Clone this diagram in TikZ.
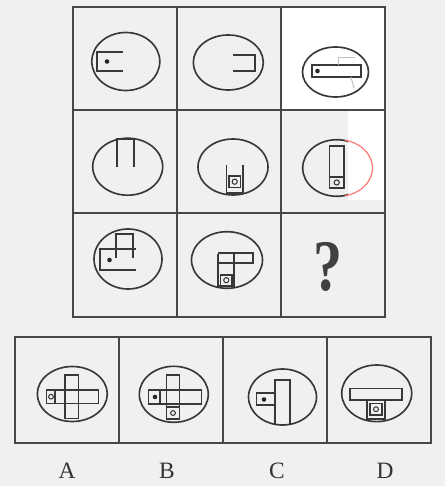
\documentclass[tikz,border=0pt]{standalone}
\usepackage{fontspec}
\setmainfont{Liberation Serif}
\usepackage{tikz}
\usetikzlibrary{positioning}

\begin{document}
\begin{tikzpicture}[
                x=0.03cm, y=-0.03cm,
                cellbox/.style={draw=black!72, line width=1.4pt},
                oval/.style={draw=black!78, line width=1.4pt},
                part/.style={draw=black!78, line width=1.15pt},
                dotmark/.style={fill=black!85},
                ringmark/.style={draw=black!78, line width=0.9pt},
                faint/.style={draw=black!25, line width=0.8pt},
                redmark/.style={draw=red!55, line width=1pt},
                optlabel/.style={font=\fontsize{20}{22}\selectfont, text=black!80, inner sep=1pt},
            ]
            % --- 底色与擦除区 ---
            \fill[black!6] (0,0) rectangle (445,486);
            \useasboundingbox (0,0) rectangle (445,486);
            \fill[white] (281,7) rectangle (385,110);
            \fill[white] (348,110) rectangle (385,200);
            % --- 题干九宫格 ---
            \draw[cellbox] (73,7) rectangle (385,317);
            \foreach \gx in {177,281} \draw[cellbox] (\gx,7) -- (\gx,317);
            \foreach \gy in {110,213} \draw[cellbox] (73,\gy) -- (385,\gy);
            % --- 选项框 ---
            \draw[cellbox] (15,337) rectangle (431,443);
            \foreach \gx in {119,223,327} \draw[cellbox] (\gx,337) -- (\gx,443);
            % --- 椭圆外框 ---
            \foreach \cx/\cy/\rx/\ry in {125.8/61.5/34/29, 228.3/62.5/35/27.5, 335.5/72/33/25,
                127.7/166.7/35/28.5, 233/167/35/28,
                128/259/34/30, 227/260/35.5/28.3,
                72.3/394/35/27.5, 173.8/394.3/34.5/28, 282.5/397/34/28, 376.7/393.3/35/28.3}
                \draw[oval] (\cx,\cy) ellipse [x radius=\rx, y radius=\ry];
            \begin{scope}
                \clip (295,130) rectangle (348,205);
                \draw[oval] (336.7,168) ellipse [x radius=34, y radius=28.3];
            \end{scope}
            \begin{scope}
                \clip (345,130) rectangle (385,205);
                \draw[redmark] (337.5,168) ellipse [x radius=35, y radius=28.5];
            \end{scope}
            % --- 第一行 ---
            \draw[part] (123,52) -- (97,52) -- (97,71) -- (123,71);
            \fill[dotmark] (107,61.5) circle [radius=2.3];
            \draw[part] (233,55) -- (255,55) -- (255,71) -- (233,71);
            \draw[part] (312,65) rectangle (361,77);
            \fill[dotmark] (317.5,71) circle [radius=2.3];
            \draw[faint] (338,65) -- (338,57) -- (355,57);
            \draw[faint] (351,77) -- (354,88);
            % --- 第二行 ---
            \draw[part] (117,167) -- (117,139) -- (134,139) -- (134,167);
            \draw[part] (226.5,165) -- (226.5,193) -- (243,193) -- (243,165);
            \draw[part] (229,176) rectangle (240.5,187.5);
            \draw[ringmark] (234.7,181.7) circle [radius=2.6];
            \draw[part] (329.5,146) rectangle (344,188);
            \draw[part] (329.5,177) -- (344,177);
            \draw[ringmark] (336.7,182.5) circle [radius=2.6];
            % --- 第三行 ---
            \draw[part] (136,249) -- (100,249) -- (100,270) -- (136,270);
            \draw[part] (116,258) -- (116,234) -- (133,234) -- (133,258);
            \fill[dotmark] (109.5,260) circle [radius=2.3];
            \draw[part] (218,253) -- (253,253) -- (253,263) -- (218,263);
            \draw[part] (218,254) -- (218,286) -- (234,286) -- (234,254);
            \draw[part] (220.5,275) rectangle (232,285.5);
            \draw[ringmark] (226.3,280.2) circle [radius=2.6];
            \node[font=\fontsize{62}{64}\selectfont\bfseries, text=black!75, xscale=0.8, inner sep=0pt] (qmark) at (328,267) {?};
            % --- 选项 A ---
            \draw[part] (46.7,390) rectangle (98.3,403.3);
            \draw[part] (65,375) rectangle (78.3,418.3);
            \draw[part] (55,390) -- (55,403.3);
            \draw[ringmark] (51,396.7) circle [radius=2.4];
            % --- 选项 B ---
            \draw[part] (148.3,390) rectangle (201.7,404);
            \draw[part] (166.7,375) rectangle (179.3,419);
            \draw[part] (160,390) -- (160,404);
            \fill[dotmark] (155,397) circle [radius=2.3];
            \draw[part] (166.7,407) -- (179.3,407);
            \draw[ringmark] (173,413) circle [radius=2.4];
            % --- 选项 C ---
            \draw[part] (275,424) -- (275,380) -- (290,380) -- (290,424);
            \draw[part] (256.5,393) rectangle (275,405);
            \fill[dotmark] (264,399.5) circle [radius=2.3];
            % --- 选项 D ---
            \draw[part] (350,388.5) rectangle (402,400);
            \draw[part] (367,400) rectangle (385,419);
            \draw[part] (370,403.5) rectangle (382,415);
            \draw[ringmark] (376,409.2) circle [radius=2.4];
            % --- 选项字母 ---
            \node[optlabel] (labA) at (67,471) {A};
            \node[optlabel] (labB) at (167,471) {B};
            \node[optlabel] (labC) at (277,471) {C};
            \node[optlabel] (labD) at (385,471) {D};
        \end{tikzpicture}
\end{document}
